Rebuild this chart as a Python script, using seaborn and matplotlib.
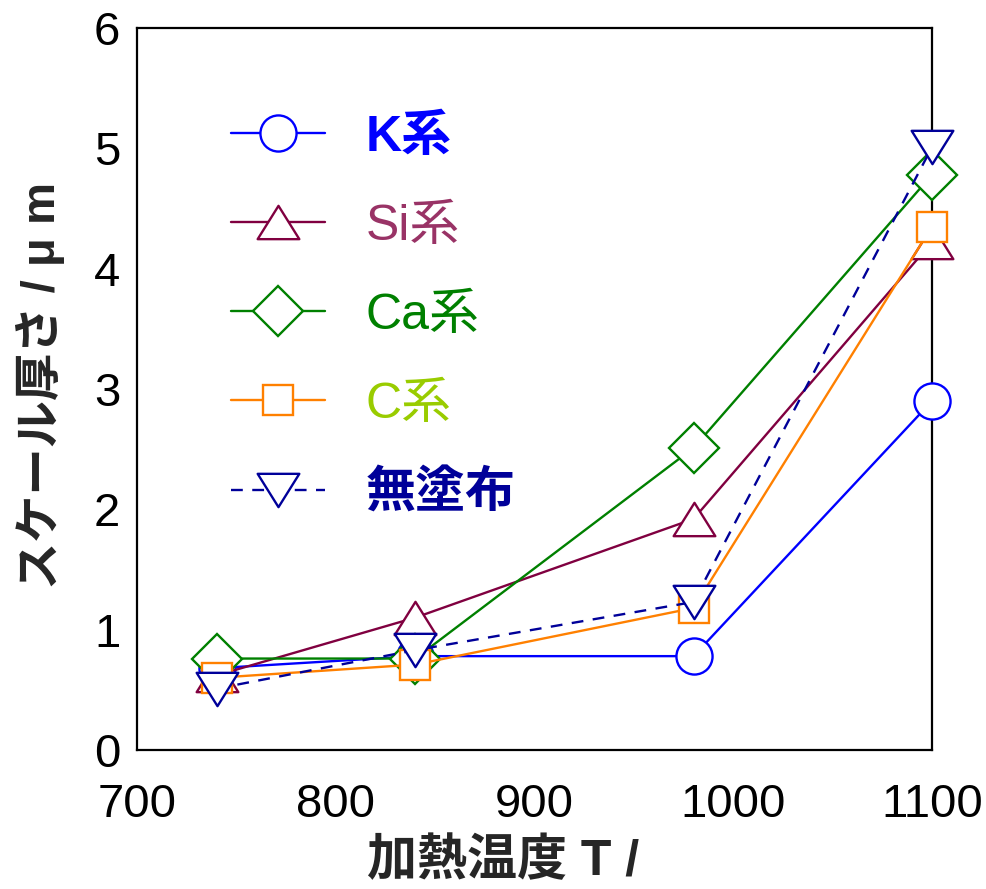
import numpy as np
import pandas as pd
import matplotlib
matplotlib.use("Agg")
import matplotlib.pyplot as plt
from matplotlib.path import Path
import seaborn as sns

# ---- data ----
temps = [740, 840, 980, 1100]
k_vals = [0.68, 0.78, 0.78, 2.90]
si_vals = [0.62, 1.10, 1.92, 4.22]
ca_vals = [0.76, 0.76, 2.51, 4.78]
c_vals = [0.60, 0.71, 1.18, 4.35]
none_vals = [0.51, 0.83, 1.23, 5.01]
labels = ["K系", "Si系", "Ca系", "C系", "無塗布"]
x_ticks = [700, 800, 900, 1000, 1100]
y_ticks = [0, 1, 2, 3, 4, 5, 6]

sns.set_style("white")
plt.rcParams["font.family"] = ["Liberation Sans", "Noto Sans CJK JP", "DejaVu Sans"]

fig = plt.figure(figsize=(9.87, 8.89), dpi=100)
ax = fig.add_axes([137 / 987, 1 - 750 / 889, 795 / 987, 722 / 889])

tri_up = Path([(-1, -0.8), (1, -0.8), (0, 0.8), (-1, -0.8)],
              [Path.MOVETO, Path.LINETO, Path.LINETO, Path.CLOSEPOLY])
tri_dn = Path([(-1, 0.8), (1, 0.8), (0, -0.8), (-1, 0.8)],
              [Path.MOVETO, Path.LINETO, Path.LINETO, Path.CLOSEPOLY])

series = [
    (k_vals, "#0000FF", "o", 26, "-"),
    (si_vals, "#800040", tri_up, 30, "-"),
    (ca_vals, "#008000", "D", 25.5, "-"),
    (c_vals, "#FF8000", "s", 21, "-"),
    (none_vals, "#000099", tri_dn, 30, (0, (5, 4))),
]
text_colors = ["#0000FF", "#993366", "#008000", "#99CC00", "#000099"]
text_weights = ["bold", "normal", "normal", "normal", "bold"]

for i, ((vals, col, mk, ms, ls), lab) in enumerate(zip(series, labels)):
    df = pd.DataFrame({"T": temps, "v": vals})
    sns.lineplot(data=df, x="T", y="v", ax=ax, color=col, marker=mk,
                 markersize=ms, markerfacecolor="white", markeredgecolor=col,
                 markeredgewidth=1.7, linewidth=1.7, linestyle=ls,
                 label=lab, zorder=3 + i, clip_on=False)

ax.set_xlim(700, 1100)
ax.set_ylim(0, 6)
ax.set_xticks(x_ticks)
ax.set_yticks(y_ticks)
ax.tick_params(axis="both", direction="in", length=14, width=1.4,
               labelsize=34, colors="black")
ax.tick_params(axis="x", pad=24)
ax.tick_params(axis="y", pad=12)
for s in ax.spines.values():
    s.set_linewidth(1.6)
    s.set_color("black")

ax.set_xlabel("加熱温度 T /", fontsize=36, fontweight="bold")
ax.xaxis.set_label_coords(0.46, -0.121)
ax.set_ylabel("スケール厚さ / μ m", fontsize=34, fontweight="bold")
ax.yaxis.set_label_coords(-0.09, 0.505)

leg = ax.legend(loc="upper left", bbox_to_anchor=(0.093, 0.908), frameon=False,
                fontsize=36, handlelength=1.88, handletextpad=0.82,
                labelspacing=0.86, borderaxespad=0)
for t, c, w in zip(leg.get_texts(), text_colors, text_weights):
    t.set_color(c)
    t.set_fontweight(w)

fig.savefig("out.png", dpi=100)
